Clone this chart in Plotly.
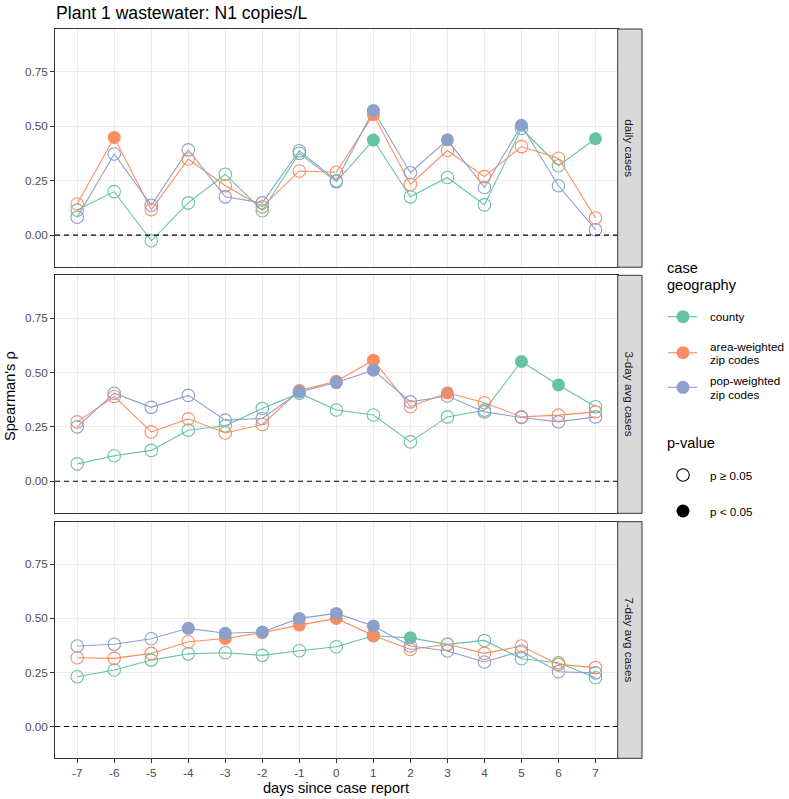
import plotly.graph_objects as go

# ---------------- data ----------------
days = [-7, -6, -5, -4, -3, -2, -1, 0, 1, 2, 3, 4, 5, 6, 7]
day_labels = [str(d) for d in days]
panel_names = ["daily cases", "3-day avg cases", "7-day avg cases"]
series_names = ["county", "area-weighted zip codes", "pop-weighted zip codes"]
series_colors = ["#66C2A5", "#FC8D62", "#8DA0CB"]

# daily cases
county_daily = [0.115, 0.200, -0.026, 0.148, 0.280, 0.112, 0.376, 0.245, 0.437, 0.176, 0.265, 0.139, 0.490, 0.319, 0.443]
area_daily = [0.143, 0.449, 0.117, 0.350, 0.227, 0.130, 0.295, 0.289, 0.554, 0.233, 0.389, 0.269, 0.407, 0.353, 0.079]
pop_daily = [0.082, 0.373, 0.137, 0.392, 0.176, 0.148, 0.388, 0.250, 0.573, 0.287, 0.438, 0.219, 0.505, 0.227, 0.025]
county_daily_sig = [0, 0, 0, 0, 0, 0, 0, 0, 1, 0, 0, 0, 0, 0, 1]
area_daily_sig = [0, 1, 0, 0, 0, 0, 0, 0, 1, 0, 0, 0, 0, 0, 0]
pop_daily_sig = [0, 0, 0, 0, 0, 0, 0, 0, 1, 0, 1, 0, 1, 0, 0]

# 3-day avg cases
county_3day = [0.080, 0.117, 0.142, 0.235, 0.255, 0.335, 0.405, 0.328, 0.305, 0.181, 0.296, 0.327, 0.551, 0.443, 0.343]
area_3day = [0.273, 0.390, 0.227, 0.287, 0.222, 0.261, 0.417, 0.460, 0.557, 0.343, 0.407, 0.361, 0.296, 0.304, 0.319]
pop_3day = [0.250, 0.405, 0.340, 0.395, 0.281, 0.289, 0.411, 0.454, 0.511, 0.365, 0.392, 0.319, 0.293, 0.273, 0.296]
county_3day_sig = [0, 0, 0, 0, 0, 0, 0, 0, 0, 0, 0, 0, 1, 1, 0]
area_3day_sig = [0, 0, 0, 0, 0, 0, 1, 1, 1, 0, 1, 0, 0, 0, 0]
pop_3day_sig = [0, 0, 0, 0, 0, 0, 1, 1, 1, 0, 0, 0, 0, 0, 0]

# 7-day avg cases
county_7day = [0.230, 0.261, 0.307, 0.336, 0.341, 0.329, 0.350, 0.369, 0.420, 0.410, 0.380, 0.398, 0.313, 0.295, 0.225]
area_7day = [0.318, 0.315, 0.338, 0.392, 0.407, 0.434, 0.469, 0.500, 0.421, 0.356, 0.380, 0.338, 0.372, 0.287, 0.272]
pop_7day = [0.372, 0.380, 0.406, 0.454, 0.431, 0.437, 0.500, 0.523, 0.465, 0.372, 0.349, 0.298, 0.349, 0.253, 0.248]
county_7day_sig = [0, 0, 0, 0, 0, 0, 0, 0, 0, 1, 0, 0, 0, 0, 0]
area_7day_sig = [0, 0, 0, 0, 1, 1, 1, 1, 1, 0, 0, 0, 0, 0, 0]
pop_7day_sig = [0, 0, 0, 1, 1, 1, 1, 1, 1, 0, 0, 0, 0, 0, 0]

y_ticks = [0.0, 0.25, 0.5, 0.75]
y_tick_labels = ["0.00", "0.25", "0.50", "0.75"]

panels = [
    ([county_daily, area_daily, pop_daily], [county_daily_sig, area_daily_sig, pop_daily_sig]),
    ([county_3day, area_3day, pop_3day], [county_3day_sig, area_3day_sig, pop_3day_sig]),
    ([county_7day, area_7day, pop_7day], [county_7day_sig, area_7day_sig, pop_7day_sig]),
]

# ---------------- layout geometry (pixels) ----------------
W, H = 789, 799
FONT = "Liberation Sans, Arial, Helvetica, sans-serif"
PX_L, PX_R = 55, 617.7
STRIP_R = 642
panel_px = [(29, 267.2), (275.3, 513.3), (521.7, 758.3)]


def fx(px):
    return px / W


def fy(py):
    return 1 - py / H


fig = go.Figure()
layout = dict(
    width=W, height=H, autosize=False,
    margin=dict(l=0, r=0, t=0, b=0),
    paper_bgcolor="white", plot_bgcolor="rgba(0,0,0,0)",
    showlegend=False,
    font=dict(family=FONT, size=12, color="#000000"),
)
shapes = []
annotations = []

for i, (vals, sigs) in enumerate(panels):
    k = i + 1
    xa = "x" if k == 1 else f"x{k}"
    ya = "y" if k == 1 else f"y{k}"
    top, bot = panel_px[i]
    layout["xaxis" if k == 1 else f"xaxis{k}"] = dict(
        domain=[fx(PX_L), fx(PX_R)], anchor=ya, range=[-7.6, 7.6],
        tickvals=days, ticktext=day_labels,
        showticklabels=(i == 2), ticks="outside" if i == 2 else "",
        ticklen=4, tickwidth=1, tickcolor="#333333",
        tickfont=dict(family=FONT, size=11.7, color="#4D4D4D"),
        showgrid=True, gridcolor="#EBEBEB", gridwidth=1, zeroline=False,
        showline=True, mirror=True, linecolor="#333333", linewidth=1,
        fixedrange=True,
    )
    layout["yaxis" if k == 1 else f"yaxis{k}"] = dict(
        domain=[fy(bot), fy(top)], anchor=xa, range=[-0.1475, 0.9475],
        tickvals=y_ticks, ticktext=y_tick_labels,
        ticks="outside", ticklen=4, tickwidth=1, tickcolor="#333333",
        tickfont=dict(family=FONT, size=11.7, color="#4D4D4D"),
        showgrid=True, gridcolor="#EBEBEB", gridwidth=1, zeroline=False,
        showline=True, mirror=True, linecolor="#333333", linewidth=1,
        fixedrange=True,
    )
    # dashed zero reference line
    shapes.append(dict(type="line", xref="paper", yref=ya, x0=fx(PX_L), x1=fx(PX_R), y0=0, y1=0,
                       line=dict(color="#000000", width=1.1, dash="5px,4px"), layer="above"))
    # facet strip
    shapes.append(dict(type="rect", xref="paper", yref="paper",
                       x0=fx(PX_R), x1=fx(STRIP_R), y0=fy(bot), y1=fy(top),
                       fillcolor="#D9D9D9", line=dict(color="#333333", width=1), layer="above"))
    annotations.append(dict(text=panel_names[i], xref="paper", yref="paper",
                            x=fx((PX_R + STRIP_R) / 2), y=fy((top + bot) / 2),
                            textangle=90, showarrow=False, xanchor="center", yanchor="middle",
                            font=dict(family=FONT, size=11.7, color="#1A1A1A")))

    # lines
    for s in range(3):
        fig.add_trace(go.Scatter(x=days, y=vals[s], mode="lines", xaxis=xa, yaxis=ya,
                                 line=dict(color=series_colors[s], width=1.1),
                                 hoverinfo="skip", showlegend=False))
    # points
    for s in range(3):
        ox = [d for d, g in zip(days, sigs[s]) if not g]
        oy = [v for v, g in zip(vals[s], sigs[s]) if not g]
        fxs = [d for d, g in zip(days, sigs[s]) if g]
        fys = [v for v, g in zip(vals[s], sigs[s]) if g]
        fig.add_trace(go.Scatter(x=ox, y=oy, mode="markers", xaxis=xa, yaxis=ya,
                                 name=series_names[s],
                                 marker=dict(symbol="circle-open", size=12.5, color=series_colors[s],
                                             line=dict(width=1.1, color=series_colors[s])),
                                 showlegend=False))
        fig.add_trace(go.Scatter(x=fxs, y=fys, mode="markers", xaxis=xa, yaxis=ya,
                                 name=series_names[s],
                                 marker=dict(symbol="circle", size=13, color=series_colors[s],
                                             line=dict(width=0)),
                                 showlegend=False))

# ---------------- titles ----------------
annotations.append(dict(text="Plant 1 wastewater: N1 copies/L", xref="paper", yref="paper",
                        x=fx(54), y=fy(13), xanchor="left", yanchor="middle", showarrow=False,
                        font=dict(family=FONT, size=17.6, color="#000000")))
annotations.append(dict(text="Spearman's ρ", xref="paper", yref="paper",
                        x=fx(10), y=fy(396), textangle=-90, xanchor="center", yanchor="middle",
                        showarrow=False, font=dict(family=FONT, size=14.6, color="#000000")))
annotations.append(dict(text="days since case report", xref="paper", yref="paper",
                        x=fx((PX_L + PX_R) / 2), y=fy(788), xanchor="center", yanchor="middle",
                        showarrow=False, font=dict(family=FONT, size=14.6, color="#000000")))

# ---------------- custom legend (pixel-space helper axis) ----------------
layout["xaxis4"] = dict(domain=[0, 1], range=[0, W], visible=False, anchor="y4", fixedrange=True)
layout["yaxis4"] = dict(domain=[0, 1], range=[H, 0], visible=False, anchor="x4", fixedrange=True)

LEG_X = 665
KEY_X0, KEY_X1, KEY_C = 668, 697, 683
LAB_X = 708

annotations.append(dict(text="case", xref="paper", yref="paper", x=fx(LEG_X), y=fy(268),
                        xanchor="left", yanchor="middle", showarrow=False,
                        font=dict(family=FONT, size=14.6, color="#000000")))
annotations.append(dict(text="geography", xref="paper", yref="paper", x=fx(LEG_X), y=fy(285),
                        xanchor="left", yanchor="middle", showarrow=False,
                        font=dict(family=FONT, size=14.6, color="#000000")))

key_y = [316.7, 352.7, 387.3]
key_labels = [["county"], ["area-weighted", "zip codes"], ["pop-weighted", "zip codes"]]
for s in range(3):
    yk = key_y[s]
    fig.add_trace(go.Scatter(x=[KEY_X0, KEY_X1], y=[yk, yk], mode="lines", xaxis="x4", yaxis="y4",
                             line=dict(color=series_colors[s], width=1.1), hoverinfo="skip",
                             showlegend=False))
    fig.add_trace(go.Scatter(x=[KEY_C], y=[yk], mode="markers", xaxis="x4", yaxis="y4",
                             marker=dict(symbol="circle", size=13, color=series_colors[s], line=dict(width=0)),
                             hoverinfo="skip", showlegend=False))
    lines = key_labels[s]
    if len(lines) == 1:
        offs = [0]
    else:
        offs = [-6.7, 6.7]
    for t, o in zip(lines, offs):
        annotations.append(dict(text=t, xref="paper", yref="paper", x=fx(LAB_X), y=fy(yk + o),
                                xanchor="left", yanchor="middle", showarrow=False,
                                font=dict(family=FONT, size=11.7, color="#000000")))

annotations.append(dict(text="p-value", xref="paper", yref="paper", x=fx(LEG_X), y=fy(443.3),
                        xanchor="left", yanchor="middle", showarrow=False,
                        font=dict(family=FONT, size=14.6, color="#000000")))
p_y = [475, 511]
p_labels = ["p ≥ 0.05", "p < 0.05"]
p_symbols = ["circle-open", "circle"]
for yk, lab, sym in zip(p_y, p_labels, p_symbols):
    fig.add_trace(go.Scatter(x=[KEY_C], y=[yk], mode="markers", xaxis="x4", yaxis="y4",
                             marker=dict(symbol=sym, size=13 if sym == "circle" else 12.5, color="#000000",
                                         line=dict(width=1.1 if sym == "circle-open" else 0, color="#000000")),
                             hoverinfo="skip", showlegend=False))
    annotations.append(dict(text=lab, xref="paper", yref="paper", x=fx(LAB_X), y=fy(yk),
                            xanchor="left", yanchor="middle", showarrow=False,
                            font=dict(family=FONT, size=11.7, color="#000000")))

layout["shapes"] = shapes
layout["annotations"] = annotations
fig.update_layout(**layout)
fig.write_html("out.html", config={"displayModeBar": False},
               post_script="document.body.style.margin='0px';")
